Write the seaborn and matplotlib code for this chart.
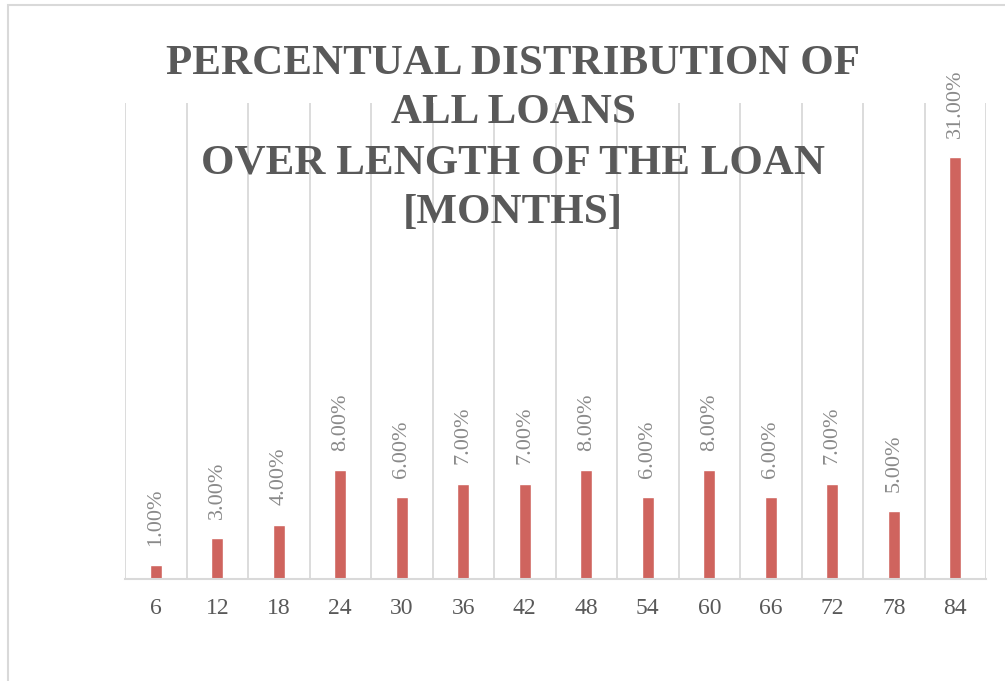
import matplotlib
matplotlib.use("Agg")
import matplotlib.pyplot as plt
from matplotlib.patches import Rectangle
import numpy as np
import pandas as pd
import seaborn as sns

# Loan length categories (months) and share of all loans (%)
terms = ["6", "12", "18", "24", "30", "36", "42", "48", "54", "60", "66", "72", "78", "84"]
shares = [1.0, 3.0, 4.0, 8.0, 6.0, 7.0, 7.0, 8.0, 6.0, 8.0, 6.0, 7.0, 5.0, 31.0]
title_lines = ["PERCENTUAL DISTRIBUTION OF", "ALL LOANS", "OVER LENGTH OF THE LOAN", "[MONTHS]"]

df = pd.DataFrame({"term": terms, "share": shares})

sns.set_theme(style="white")
plt.rcParams["font.family"] = ["Liberation Serif", "DejaVu Serif"]

W, H = 1005, 681
fig = plt.figure(figsize=(W / 100, H / 100), dpi=100)
ax = fig.add_axes([125 / W, 1 - 579 / H, (986 - 125) / W, (579 - 103) / H])

bar_color = "#cf645e"
sns.barplot(data=df, x="term", y="share", order=terms, color=bar_color,
            saturation=1, width=0.2, ax=ax)

ax.set_ylim(0, 35)
ax.set_xlim(-0.5, len(terms) - 0.5)

# vertical separators between categories
ax.set_xticks(np.arange(-0.5, len(terms), 1), minor=True)
ax.grid(False)
ax.grid(axis="x", which="minor", color="#d9d9d9", lw=1.3)
ax.tick_params(axis="both", which="both", length=0)
ax.tick_params(axis="x", which="major", pad=14, labelsize=17, labelcolor="#595959")
ax.set_yticks([])
ax.set_xlabel("")
ax.set_ylabel("")
for side in ["top", "left", "right"]:
    ax.spines[side].set_visible(False)
ax.spines["bottom"].set_color("#d9d9d9")
ax.spines["bottom"].set_linewidth(1.5)
for t in ax.get_xticklabels():
    t.set_fontfamily(["Liberation Serif", "DejaVu Serif"])

# value labels above each bar
for i, v in enumerate(shares):
    ax.annotate(f"{v:.2f}%", xy=(i, v), xytext=(0, 14), textcoords="offset points",
                rotation=90, ha="center", va="bottom", fontsize=16, color="#8a8a8a")

# title
baselines = [74, 123, 174, 223]
for line, yb in zip(title_lines, baselines):
    fig.text(513 / W, 1 - yb / H, line, ha="center", va="baseline", fontsize=31,
             fontweight="bold", color="#595959")

# chart frame
fig.patches.append(Rectangle((8 / W, -0.05), 1.2, 1.05 - 5 / H, transform=fig.transFigure,
                             fill=False, ec="#d9d9d9", lw=1.5))

fig.savefig("out.png", dpi=100)
